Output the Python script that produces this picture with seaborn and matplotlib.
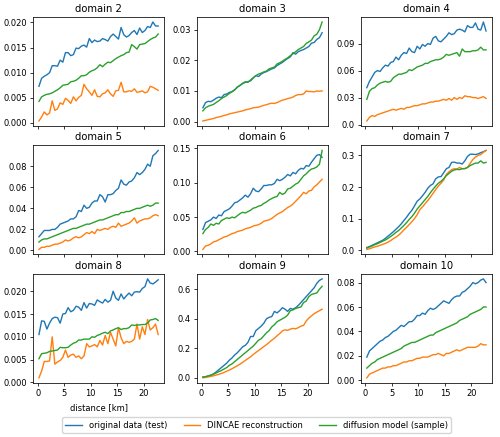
import numpy as np
import pandas as pd
import matplotlib
matplotlib.use("Agg")
import matplotlib.pyplot as plt
import seaborn as sns

DISTANCE = [0.25, 0.75, 1.25, 1.75, 2.25, 2.75, 3.25, 3.75, 4.25, 4.75,
            5.25, 5.75, 6.25, 6.75, 7.25, 7.75, 8.25, 8.75, 9.25, 9.75,
            10.25, 10.75, 11.25, 11.75, 12.25, 12.75, 13.25, 13.75, 14.25, 14.75,
            15.25, 15.75, 16.25, 16.75, 17.25, 17.75, 18.25, 18.75, 19.25, 19.75,
            20.25, 20.75, 21.25, 21.75, 22.25, 22.75]

SERIES = ["original data (test)", "DINCAE reconstruction", "diffusion model (sample)"]
DOMAINS = ["domain 2", "domain 3", "domain 4", "domain 5", "domain 6",
           "domain 7", "domain 8", "domain 9", "domain 10"]

# ---- domain 2
d2_orig = [0.0073, 0.0089, 0.0093, 0.0096, 0.0100, 0.0114, 0.0114, 0.0113, 0.0125, 0.0121,
           0.0140, 0.0140, 0.0134, 0.0136, 0.0149, 0.0148, 0.0153, 0.0155, 0.0151, 0.0168,
           0.0160, 0.0165, 0.0162, 0.0163, 0.0168, 0.0166, 0.0163, 0.0172, 0.0177, 0.0172,
           0.0167, 0.0190, 0.0176, 0.0171, 0.0174, 0.0180, 0.0184, 0.0176, 0.0189, 0.0180,
           0.0184, 0.0192, 0.0190, 0.0201, 0.0193, 0.0193]
d2_dincae = [0.0004, 0.0012, 0.0022, 0.0016, 0.0020, 0.0044, 0.0025, 0.0028, 0.0040, 0.0037,
             0.0049, 0.0045, 0.0039, 0.0052, 0.0044, 0.0051, 0.0055, 0.0077, 0.0068, 0.0062,
             0.0055, 0.0066, 0.0053, 0.0052, 0.0058, 0.0060, 0.0066, 0.0058, 0.0053, 0.0064,
             0.0065, 0.0081, 0.0062, 0.0062, 0.0064, 0.0063, 0.0068, 0.0061, 0.0062, 0.0064,
             0.0060, 0.0062, 0.0073, 0.0071, 0.0068, 0.0065]
d2_diff = [0.0043, 0.0052, 0.0055, 0.0057, 0.0058, 0.0060, 0.0063, 0.0066, 0.0070, 0.0075,
           0.0076, 0.0077, 0.0082, 0.0083, 0.0085, 0.0089, 0.0094, 0.0094, 0.0096, 0.0101,
           0.0104, 0.0106, 0.0110, 0.0116, 0.0112, 0.0117, 0.0121, 0.0120, 0.0124, 0.0128,
           0.0131, 0.0134, 0.0136, 0.0140, 0.0141, 0.0156, 0.0152, 0.0147, 0.0156, 0.0157,
           0.0158, 0.0162, 0.0166, 0.0169, 0.0171, 0.0177]

# ---- domain 3
d3_orig = [0.0045, 0.0062, 0.0066, 0.0065, 0.0070, 0.0076, 0.0080, 0.0078, 0.0088, 0.0090,
           0.0095, 0.0098, 0.0104, 0.0112, 0.0118, 0.0124, 0.0128, 0.0130, 0.0133, 0.0142,
           0.0150, 0.0147, 0.0155, 0.0160, 0.0163, 0.0168, 0.0172, 0.0175, 0.0183, 0.0188,
           0.0193, 0.0200, 0.0206, 0.0211, 0.0225, 0.0220, 0.0228, 0.0232, 0.0235, 0.0240,
           0.0245, 0.0256, 0.0258, 0.0268, 0.0274, 0.0290]
d3_dincae = [0.0002, 0.0004, 0.0006, 0.0008, 0.0010, 0.0013, 0.0015, 0.0017, 0.0020, 0.0022,
             0.0025, 0.0027, 0.0029, 0.0031, 0.0033, 0.0035, 0.0038, 0.0040, 0.0042, 0.0045,
             0.0046, 0.0047, 0.0050, 0.0053, 0.0055, 0.0058, 0.0060, 0.0059, 0.0062, 0.0066,
             0.0070, 0.0072, 0.0075, 0.0077, 0.0080, 0.0085, 0.0088, 0.0088, 0.0090, 0.0100,
             0.0098, 0.0098, 0.0097, 0.0100, 0.0099, 0.0100]
d3_diff = [0.0035, 0.0045, 0.0050, 0.0053, 0.0056, 0.0062, 0.0068, 0.0075, 0.0080, 0.0085,
           0.0092, 0.0097, 0.0103, 0.0113, 0.0118, 0.0125, 0.0130, 0.0128, 0.0136, 0.0143,
           0.0150, 0.0155, 0.0158, 0.0162, 0.0165, 0.0172, 0.0175, 0.0178, 0.0188, 0.0192,
           0.0197, 0.0203, 0.0208, 0.0215, 0.0221, 0.0228, 0.0235, 0.0240, 0.0245, 0.0255,
           0.0260, 0.0266, 0.0280, 0.0285, 0.0300, 0.0325]

# ---- domain 4
d4_orig = [0.041, 0.048, 0.053, 0.058, 0.060, 0.059, 0.063, 0.066, 0.065, 0.069,
           0.070, 0.075, 0.072, 0.077, 0.080, 0.079, 0.085, 0.081, 0.080, 0.087,
           0.084, 0.089, 0.087, 0.090, 0.089, 0.096, 0.098, 0.093, 0.092, 0.095,
           0.098, 0.102, 0.100, 0.101, 0.105, 0.106, 0.105, 0.103, 0.110, 0.108,
           0.108, 0.113, 0.106, 0.105, 0.114, 0.104]
d4_dincae = [0.004, 0.008, 0.010, 0.009, 0.011, 0.012, 0.013, 0.014, 0.015, 0.016,
             0.017, 0.016, 0.017, 0.018, 0.017, 0.019, 0.019, 0.020, 0.021, 0.021,
             0.022, 0.023, 0.023, 0.024, 0.025, 0.025, 0.026, 0.026, 0.027, 0.028,
             0.027, 0.029, 0.027, 0.030, 0.028, 0.030, 0.029, 0.032, 0.031, 0.031,
             0.030, 0.030, 0.029, 0.030, 0.031, 0.029]
d4_diff = [0.028, 0.037, 0.040, 0.041, 0.044, 0.046, 0.047, 0.048, 0.047, 0.048,
           0.052, 0.054, 0.056, 0.056, 0.057, 0.058, 0.061, 0.060, 0.062, 0.064,
           0.065, 0.066, 0.068, 0.068, 0.070, 0.071, 0.072, 0.072, 0.073, 0.075,
           0.078, 0.077, 0.078, 0.079, 0.080, 0.076, 0.084, 0.081, 0.081, 0.081,
           0.082, 0.082, 0.083, 0.086, 0.083, 0.083]

# ---- domain 5
d5_orig = [0.013, 0.016, 0.019, 0.019, 0.019, 0.020, 0.020, 0.022, 0.025, 0.026,
           0.027, 0.028, 0.030, 0.030, 0.032, 0.038, 0.037, 0.043, 0.040, 0.041,
           0.045, 0.047, 0.047, 0.053, 0.051, 0.046, 0.053, 0.053, 0.054, 0.057,
           0.059, 0.067, 0.063, 0.062, 0.065, 0.066, 0.069, 0.074, 0.072, 0.074,
           0.077, 0.082, 0.080, 0.090, 0.092, 0.095]
d5_dincae = [0.001, 0.003, 0.003, 0.004, 0.004, 0.005, 0.006, 0.006, 0.007, 0.008,
             0.010, 0.009, 0.010, 0.012, 0.013, 0.012, 0.013, 0.015, 0.017, 0.016,
             0.018, 0.016, 0.020, 0.019, 0.020, 0.021, 0.020, 0.022, 0.023, 0.022,
             0.026, 0.023, 0.024, 0.025, 0.026, 0.028, 0.031, 0.026, 0.028, 0.029,
             0.030, 0.030, 0.031, 0.033, 0.034, 0.033]
d5_diff = [0.008, 0.010, 0.011, 0.011, 0.012, 0.013, 0.014, 0.015, 0.016, 0.017,
           0.018, 0.019, 0.020, 0.021, 0.021, 0.022, 0.023, 0.024, 0.025, 0.025,
           0.026, 0.027, 0.028, 0.029, 0.029, 0.030, 0.031, 0.032, 0.033, 0.034,
           0.034, 0.036, 0.036, 0.037, 0.037, 0.038, 0.039, 0.040, 0.040, 0.041,
           0.042, 0.043, 0.042, 0.043, 0.045, 0.045]

# ---- domain 6
d6_orig = [0.032, 0.042, 0.044, 0.046, 0.050, 0.048, 0.053, 0.052, 0.058, 0.060,
           0.062, 0.066, 0.071, 0.072, 0.075, 0.078, 0.082, 0.079, 0.084, 0.092,
           0.088, 0.087, 0.091, 0.096, 0.096, 0.097, 0.097, 0.099, 0.105, 0.103,
           0.105, 0.108, 0.112, 0.110, 0.115, 0.113, 0.118, 0.121, 0.120, 0.125,
           0.124, 0.130, 0.135, 0.140, 0.141, 0.137]
d6_dincae = [0.003, 0.008, 0.009, 0.011, 0.014, 0.015, 0.017, 0.019, 0.021, 0.022,
             0.024, 0.026, 0.027, 0.029, 0.030, 0.031, 0.033, 0.034, 0.035, 0.037,
             0.038, 0.039, 0.041, 0.044, 0.045, 0.046, 0.048, 0.051, 0.054, 0.056,
             0.058, 0.061, 0.064, 0.066, 0.069, 0.073, 0.077, 0.081, 0.086, 0.084,
             0.088, 0.089, 0.094, 0.097, 0.101, 0.105]
d6_diff = [0.026, 0.032, 0.035, 0.040, 0.038, 0.041, 0.040, 0.045, 0.047, 0.049,
           0.048, 0.050, 0.049, 0.052, 0.055, 0.057, 0.056, 0.058, 0.060, 0.063,
           0.064, 0.066, 0.067, 0.070, 0.072, 0.075, 0.077, 0.079, 0.080, 0.086,
           0.083, 0.085, 0.091, 0.092, 0.095, 0.098, 0.100, 0.105, 0.110, 0.113,
           0.117, 0.120, 0.121, 0.123, 0.127, 0.147]

# ---- domain 7
d7_orig = [0.008, 0.011, 0.015, 0.019, 0.023, 0.027, 0.031, 0.037, 0.044, 0.051,
           0.058, 0.066, 0.074, 0.083, 0.094, 0.104, 0.116, 0.126, 0.140, 0.155,
           0.162, 0.172, 0.183, 0.196, 0.205, 0.210, 0.226, 0.232, 0.233, 0.245,
           0.258, 0.262, 0.278, 0.279, 0.276, 0.276, 0.273, 0.283, 0.297, 0.304,
           0.304, 0.303, 0.305, 0.309, 0.312, 0.316]
d7_dincae = [0.002, 0.004, 0.007, 0.010, 0.012, 0.015, 0.018, 0.021, 0.025, 0.030,
             0.036, 0.041, 0.047, 0.055, 0.064, 0.072, 0.081, 0.090, 0.100, 0.112,
             0.128, 0.137, 0.147, 0.157, 0.168, 0.180, 0.192, 0.203, 0.212, 0.222,
             0.240, 0.248, 0.255, 0.258, 0.257, 0.262, 0.258, 0.259, 0.262, 0.275,
             0.287, 0.295, 0.300, 0.303, 0.310, 0.316]
d7_diff = [0.006, 0.010, 0.013, 0.017, 0.020, 0.024, 0.028, 0.032, 0.037, 0.043,
           0.049, 0.056, 0.062, 0.070, 0.078, 0.087, 0.097, 0.106, 0.117, 0.130,
           0.140, 0.150, 0.160, 0.170, 0.182, 0.193, 0.203, 0.212, 0.218, 0.226,
           0.236, 0.243, 0.250, 0.254, 0.256, 0.255, 0.258, 0.258, 0.262, 0.268,
           0.272, 0.276, 0.276, 0.283, 0.276, 0.278]

# ---- domain 8
d8_orig = [0.0105, 0.0135, 0.0134, 0.0117, 0.0130, 0.0140, 0.0143, 0.0142, 0.0130, 0.0150,
           0.0151, 0.0164, 0.0155, 0.0158, 0.0167, 0.0165, 0.0158, 0.0175, 0.0163, 0.0173,
           0.0172, 0.0169, 0.0181, 0.0177, 0.0174, 0.0182, 0.0176, 0.0180, 0.0200, 0.0185,
           0.0180, 0.0194, 0.0183, 0.0190, 0.0196, 0.0190, 0.0198, 0.0199, 0.0198, 0.0206,
           0.0210, 0.0227, 0.0218, 0.0216, 0.0220, 0.0225]
d8_dincae = [0.0010, 0.0025, 0.0046, 0.0046, 0.0047, 0.0100, 0.0040, 0.0045, 0.0048, 0.0055,
             0.0071, 0.0055, 0.0060, 0.0062, 0.0055, 0.0058, 0.0052, 0.0058, 0.0085, 0.0078,
             0.0080, 0.0083, 0.0078, 0.0092, 0.0082, 0.0103, 0.0085, 0.0110, 0.0095, 0.0080,
             0.0120, 0.0098, 0.0085, 0.0090, 0.0088, 0.0090, 0.0095, 0.0128, 0.0095, 0.0122,
             0.0105, 0.0138, 0.0115, 0.0120, 0.0128, 0.0105]
d8_diff = [0.0052, 0.0063, 0.0064, 0.0065, 0.0068, 0.0069, 0.0070, 0.0071, 0.0077, 0.0076,
           0.0076, 0.0077, 0.0082, 0.0086, 0.0088, 0.0093, 0.0093, 0.0095, 0.0095, 0.0095,
           0.0100, 0.0099, 0.0103, 0.0105, 0.0108, 0.0110, 0.0107, 0.0113, 0.0115, 0.0118,
           0.0120, 0.0116, 0.0118, 0.0118, 0.0120, 0.0126, 0.0125, 0.0126, 0.0126, 0.0127,
           0.0127, 0.0130, 0.0137, 0.0138, 0.0140, 0.0136]

# ---- domain 9
d9_orig = [0.005, 0.008, 0.012, 0.018, 0.027, 0.040, 0.055, 0.070, 0.085, 0.100,
           0.120, 0.135, 0.155, 0.170, 0.190, 0.210, 0.220, 0.240, 0.280, 0.280,
           0.320, 0.335, 0.350, 0.370, 0.400, 0.410, 0.415, 0.450, 0.440, 0.455,
           0.475, 0.465, 0.450, 0.470, 0.465, 0.475, 0.490, 0.510, 0.530, 0.550,
           0.570, 0.590, 0.610, 0.640, 0.660, 0.670]
d9_dincae = [0.000, 0.003, 0.006, 0.010, 0.014, 0.019, 0.024, 0.030, 0.037, 0.045,
             0.053, 0.062, 0.072, 0.082, 0.093, 0.105, 0.118, 0.130, 0.143, 0.158,
             0.172, 0.185, 0.198, 0.212, 0.225, 0.240, 0.255, 0.268, 0.285, 0.300,
             0.318, 0.325, 0.322, 0.330, 0.335, 0.332, 0.340, 0.350, 0.355, 0.385,
             0.405, 0.420, 0.435, 0.445, 0.455, 0.465]
d9_diff = [0.005, 0.008, 0.013, 0.018, 0.025, 0.033, 0.042, 0.050, 0.060, 0.070,
           0.085, 0.095, 0.110, 0.125, 0.140, 0.155, 0.170, 0.185, 0.200, 0.215,
           0.235, 0.255, 0.265, 0.285, 0.305, 0.320, 0.345, 0.360, 0.380, 0.390,
           0.400, 0.410, 0.425, 0.455, 0.460, 0.470, 0.475, 0.480, 0.510, 0.520,
           0.550, 0.565, 0.570, 0.575, 0.600, 0.620]

# ---- domain 10
d10_orig = [0.019, 0.024, 0.026, 0.028, 0.030, 0.032, 0.033, 0.035, 0.036, 0.038,
            0.040, 0.041, 0.043, 0.045, 0.044, 0.046, 0.048, 0.048, 0.050, 0.053,
            0.053, 0.055, 0.054, 0.057, 0.059, 0.058, 0.059, 0.061, 0.063, 0.065,
            0.064, 0.063, 0.066, 0.068, 0.069, 0.069, 0.072, 0.073, 0.075, 0.077,
            0.080, 0.079, 0.080, 0.082, 0.083, 0.080]
d10_dincae = [0.002, 0.005, 0.006, 0.007, 0.008, 0.009, 0.010, 0.010, 0.011, 0.011,
              0.012, 0.012, 0.013, 0.014, 0.015, 0.015, 0.016, 0.016, 0.017, 0.018,
              0.018, 0.019, 0.019, 0.019, 0.020, 0.021, 0.021, 0.022, 0.021, 0.020,
              0.022, 0.022, 0.023, 0.024, 0.025, 0.024, 0.025, 0.026, 0.027, 0.027,
              0.027, 0.027, 0.028, 0.030, 0.029, 0.029]
d10_diff = [0.010, 0.012, 0.014, 0.015, 0.017, 0.018, 0.019, 0.020, 0.021, 0.022,
            0.023, 0.024, 0.025, 0.026, 0.028, 0.029, 0.030, 0.031, 0.031, 0.032,
            0.033, 0.034, 0.035, 0.036, 0.037, 0.037, 0.039, 0.040, 0.041, 0.042,
            0.043, 0.044, 0.045, 0.046, 0.047, 0.049, 0.050, 0.051, 0.052, 0.054,
            0.055, 0.056, 0.057, 0.058, 0.060, 0.060]

YTICKS = {
    "domain 2": [0.0, 0.005, 0.010, 0.015, 0.020],
    "domain 3": [0.0, 0.01, 0.02, 0.03],
    "domain 4": [0.0, 0.03, 0.06, 0.09],
    "domain 5": [0.0, 0.02, 0.04, 0.06, 0.08],
    "domain 6": [0.0, 0.05, 0.10, 0.15],
    "domain 7": [0.0, 0.1, 0.2, 0.3],
    "domain 8": [0.0, 0.005, 0.010, 0.015, 0.020],
    "domain 9": [0.0, 0.2, 0.4, 0.6],
    "domain 10": [0.0, 0.02, 0.04, 0.06, 0.08],
}
YTICKLABELS = {
    "domain 2": ["0.000", "0.005", "0.010", "0.015", "0.020"],
    "domain 3": ["0.00", "0.01", "0.02", "0.03"],
    "domain 4": ["0.0", "0.03", "0.06", "0.09"],
    "domain 5": ["0.00", "0.02", "0.04", "0.06", "0.08"],
    "domain 6": ["0.00", "0.05", "0.10", "0.15"],
    "domain 7": ["0.0", "0.1", "0.2", "0.3"],
    "domain 8": ["0.000", "0.005", "0.010", "0.015", "0.020"],
    "domain 9": ["0.0", "0.2", "0.4", "0.6"],
    "domain 10": ["0.00", "0.02", "0.04", "0.06", "0.08"],
}
XTICKS = [0, 5, 10, 15, 20]
XLABEL = "distance [km]"

DATA = {
    "domain 2": (d2_orig, d2_dincae, d2_diff),
    "domain 3": (d3_orig, d3_dincae, d3_diff),
    "domain 4": (d4_orig, d4_dincae, d4_diff),
    "domain 5": (d5_orig, d5_dincae, d5_diff),
    "domain 6": (d6_orig, d6_dincae, d6_diff),
    "domain 7": (d7_orig, d7_dincae, d7_diff),
    "domain 8": (d8_orig, d8_dincae, d8_diff),
    "domain 9": (d9_orig, d9_dincae, d9_diff),
    "domain 10": (d10_orig, d10_dincae, d10_diff),
}

rows = []
for dom in DOMAINS:
    for name, vals in zip(SERIES, DATA[dom]):
        for x, v in zip(DISTANCE, vals):
            rows.append((dom, name, x, v))
df = pd.DataFrame(rows, columns=["domain", "series", "distance", "value"])

plt.rcParams.update({
    "font.family": ["DejaVu Sans"],
    "font.size": 6,
    "axes.titlesize": 7.2,
    "axes.labelsize": 6,
    "xtick.labelsize": 6,
    "ytick.labelsize": 6,
    "legend.fontsize": 6,
    "axes.linewidth": 0.55,
    "xtick.major.width": 0.55,
    "ytick.major.width": 0.55,
    "xtick.major.size": 2.2,
    "ytick.major.size": 2.2,
    "xtick.major.pad": 2.0,
    "ytick.major.pad": 2.0,
    "axes.titlepad": 3.6,
})

palette = {SERIES[0]: "#1f77b4", SERIES[1]: "#ff7f0e", SERIES[2]: "#2ca02c"}

fig, axes = plt.subplots(3, 3, figsize=(5.0, 4.37), dpi=100, sharex=True)
fig.subplots_adjust(left=0.066, right=0.984, top=0.961, bottom=0.124,
                    wspace=0.25, hspace=0.18)

for ax, dom in zip(axes.flat, DOMAINS):
    sub = df[df["domain"] == dom]
    sns.lineplot(data=sub, x="distance", y="value", hue="series",
                 hue_order=SERIES, palette=palette, linewidth=1.0,
                 ax=ax, legend=False)
    ax.set_title(dom)
    ax.set_xlabel("")
    ax.set_ylabel("")
    ax.set_yticks(YTICKS[dom])
    ax.set_yticklabels(YTICKLABELS[dom])
    ax.set_xticks(XTICKS)

axes[2, 0].set_xlabel(XLABEL)

handles = [plt.Line2D([], [], color=palette[s], linewidth=1.0) for s in SERIES]
fig.legend(handles, SERIES, loc="lower center", ncol=3,
           bbox_to_anchor=(0.513, 0.0), frameon=True)

fig.savefig("out.png", dpi=100)
